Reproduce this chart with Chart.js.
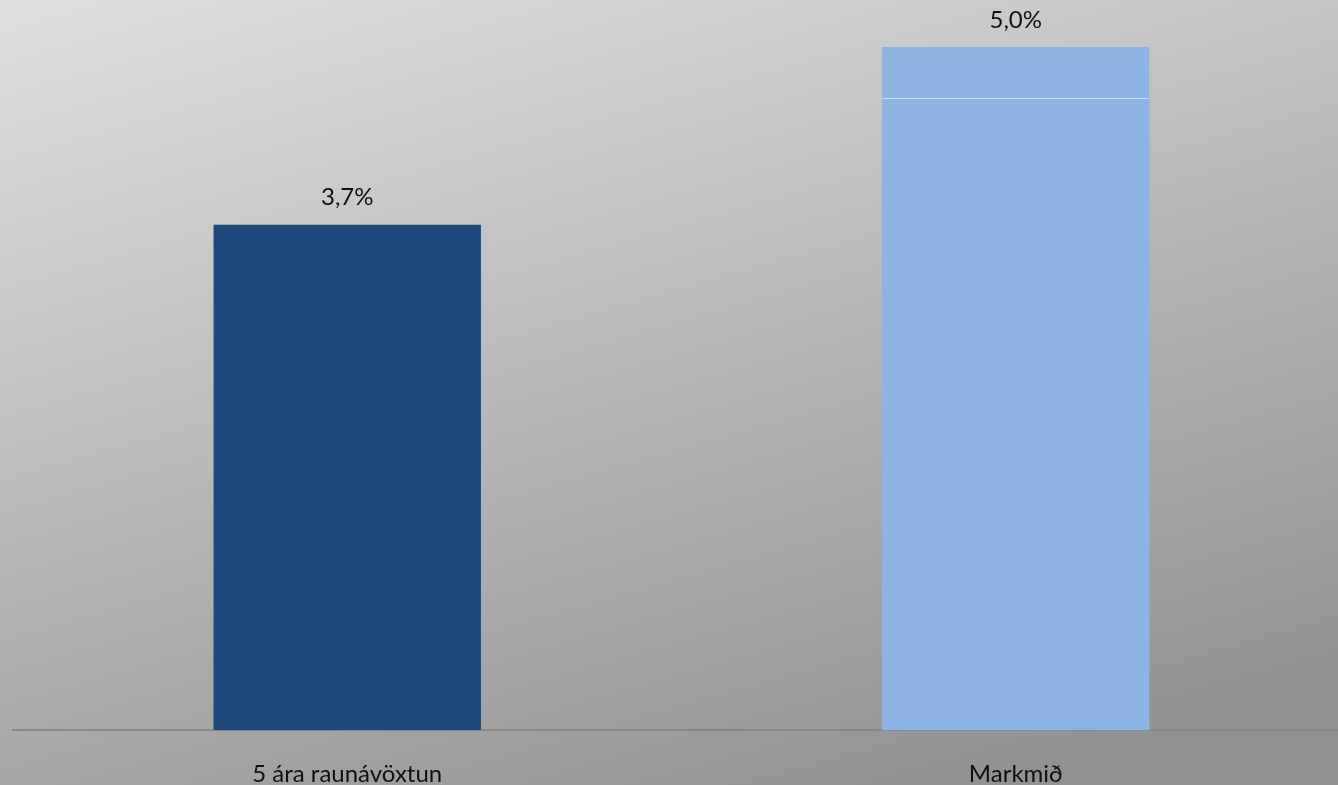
<!DOCTYPE html>
<html lang="is">

<head>
    <meta charset="UTF-8">
    <title>Raunávöxtun</title>
    <script src="https://cdn.jsdelivr.net/npm/chart.js"></script>
    <style>
        html, body {
            margin: 0;
            padding: 0;
            overflow: hidden;
            background: #c0c0c0;
        }
        /* aðeins stærra en glugginn, x-ás merkingar fá pláss fyrir neðan */
        #wrap {
            position: relative;
            width: 1350px;
            height: 819px;
        }
    </style>
</head>

<body>
    <div id="wrap"><canvas id="myChart"></canvas></div>

    <script>
        // gögn
        const categories = ['5 ára raunávöxtun', 'Markmið'];
        const baseValues = [3.7, 4.62];  // neðri hluti súlu
        const topValues = [0, 0.38];     // efri hluti (aðeins á markmiði)
        const totals = [3.7, 5.0];
        const labels = ['3,7%', '5,0%'];

        const fontFamily = "Lato, 'Open Sans', sans-serif";

        // bakgrunnur með halla
        const bgPlugin = {
            id: 'bg',
            beforeDraw(chart) {
                const ctx = chart.ctx;
                const g = ctx.createLinearGradient(0, 0, 283, 1002);
                g.addColorStop(0, '#e0e0e0');
                g.addColorStop(1, '#909090');
                ctx.save();
                ctx.fillStyle = g;
                ctx.fillRect(0, 0, chart.width, chart.height);
                ctx.restore();
            }
        };

        // gildi fyrir ofan súlur
        const valuePlugin = {
            id: 'values',
            afterDatasetsDraw(chart) {
                const ctx = chart.ctx;
                const y = chart.scales.y;
                const meta = chart.getDatasetMeta(0);
                ctx.save();
                ctx.font = '24px ' + fontFamily;
                ctx.fillStyle = '#111';
                ctx.textAlign = 'center';
                ctx.textBaseline = 'middle';
                totals.forEach((v, i) => {
                    ctx.fillText(labels[i], meta.data[i].x, y.getPixelForValue(v) - 27);
                });
                ctx.restore();
            }
        };

        const data = {
            labels: categories,
            datasets: [
                {
                    label: 'grunnur',
                    data: baseValues,
                    backgroundColor: ['#1f497d', '#8eb4e3'],
                    borderWidth: 0,
                    barPercentage: 0.4,
                    categoryPercentage: 1
                },
                {
                    label: 'efri',
                    data: topValues,
                    backgroundColor: '#8eb4e3',
                    borderColor: '#c9d9ee',
                    borderWidth: { top: 0, left: 0, right: 0, bottom: 1 },
                    borderSkipped: false,
                    barPercentage: 0.4,
                    categoryPercentage: 1
                }
            ]
        };

        const config = {
            type: 'bar',
            data: data,
            plugins: [bgPlugin, valuePlugin],
            options: {
                responsive: true,
                maintainAspectRatio: false,
                animation: false,
                layout: {
                    padding: { top: 6, left: 13, right: 0, bottom: 0 }
                },
                plugins: {
                    legend: { display: false },
                    tooltip: { enabled: false }
                },
                scales: {
                    x: {
                        stacked: true,
                        grid: { display: false, drawTicks: false },
                        border: { display: true, color: '#888888', width: 2 },
                        ticks: {
                            color: '#111',
                            padding: 30,
                            font: { size: 24, family: fontFamily }
                        }
                    },
                    y: {
                        stacked: true,
                        display: false,
                        min: 0,
                        max: 5.3
                    }
                }
            }
        };

        const myChart = new Chart(document.getElementById('myChart'), config);
    </script>
</body>

</html>
